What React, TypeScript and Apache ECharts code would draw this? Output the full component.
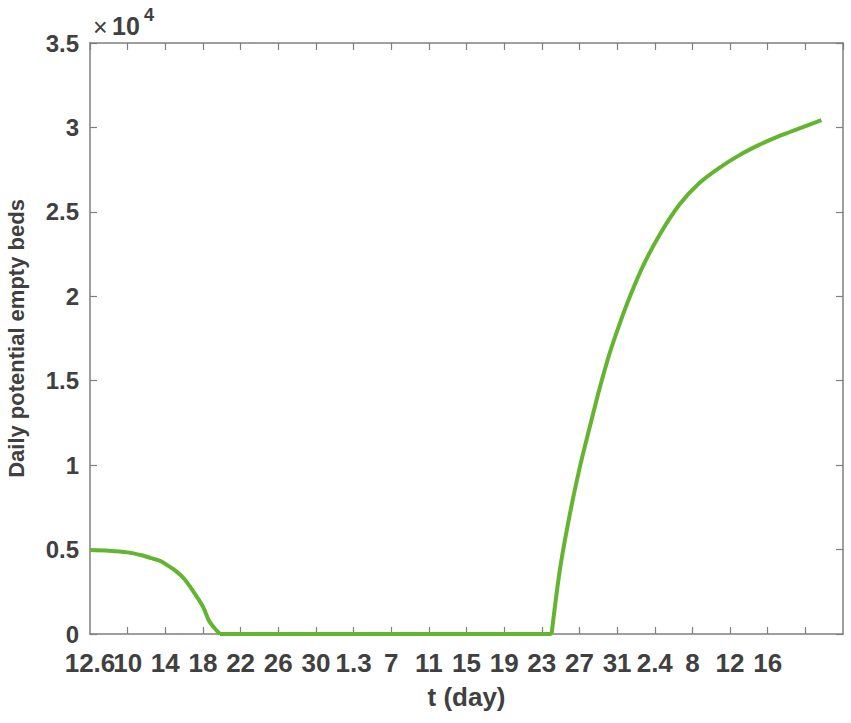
import React, { useEffect, useRef } from "react";
import * as echarts from "echarts";

// t in days since 12.6, value = daily potential empty beds
const days = [0, 2, 4, 5.5, 6.5, 7.5, 8.2, 9, 10, 11, 12, 12.6, 13.1, 13.8, 49.04, 49.92, 50.98, 52.05, 53.1, 54.16, 55.22, 56.29, 57.35, 58.76, 60.52, 62.65, 64.77, 66.9, 69, 71.14, 73.26, 75.38, 77.7];
const beds = [4970, 4935, 4835, 4660, 4490, 4320, 4080, 3780, 3270, 2500, 1620, 830, 430, 0, 0, 3800, 7100, 9900, 12270, 14580, 16650, 18400, 19970, 21800, 23650, 25450, 26720, 27620, 28360, 28980, 29500, 29950, 30430];
// indices where the curve has a corner (end of decline, start of rise)
const cornerIdx = [13, 14];
const xTickLabels = ["12.6", "10", "14", "18", "22", "26", "30", "1.3", "7", "11", "15", "19", "23", "27", "31", "2.4", "8", "12", "16"];
const yTickStep = 5000;
const yMax = 35000;
const xMax = 80;
const xTickStep = 4;

const AXIS = "#7f7f7f";
const TEXT = "#404040";
const LINE = "#63b52f";
const FONT = "'Liberation Sans', Arial, Helvetica, sans-serif";

export default function App() {
  const ref = useRef<HTMLDivElement>(null);
  useEffect(() => {
    if (!ref.current) return;
    const chart = echarts.init(ref.current, undefined, { renderer: "svg" });
    const pts = days.map((d, i) => [d, beds[i]]);
    const segs = [
      pts.slice(0, cornerIdx[0] + 1),
      pts.slice(cornerIdx[0], cornerIdx[1] + 1),
      pts.slice(cornerIdx[1]),
    ];
    const axisCommon = {
      axisLine: { show: true, onZero: false, lineStyle: { color: AXIS, width: 1.5 } },
      axisTick: { show: true, inside: true, length: 7, lineStyle: { color: AXIS, width: 1.2 } },
      splitLine: { show: false },
    };
    const xLabelStyle = {
      margin: 16,
      fontSize: 26,
      fontWeight: "bold",
      fontFamily: FONT,
      color: TEXT,
      hideOverlap: false,
    };
    chart.setOption({
      animation: false,
      backgroundColor: "#ffffff",
      grid: { left: 90, right: 8, top: 43, bottom: 89, containLabel: false, outerBoundsMode: "none" },
      xAxis: [
        {
          type: "value",
          min: 0,
          max: xMax,
          interval: xTickStep,
          position: "bottom",
          ...axisCommon,
          axisLabel: {
            ...xLabelStyle,
            showMinLabel: false,
            showMaxLabel: false,
            formatter: (v: number) => (v === 0 ? "" : xTickLabels[Math.round(v / xTickStep)] ?? ""),
          },
          name: "t (day)",
          nameLocation: "middle",
          nameGap: 50,
          nameTextStyle: { fontSize: 26, fontWeight: "bold", fontFamily: FONT, color: TEXT },
        },
        {
          type: "value",
          min: 0,
          max: xMax,
          interval: xTickStep,
          position: "top",
          ...axisCommon,
          axisLabel: { show: false },
        },
        {
          // carries only the first (overlapping) tick label "12.6"
          type: "value",
          min: 0,
          max: xMax,
          interval: xMax,
          position: "bottom",
          axisLine: { show: false },
          axisTick: { show: false },
          splitLine: { show: false },
          axisLabel: {
            ...xLabelStyle,
            showMinLabel: true,
            showMaxLabel: false,
            formatter: (v: number) => (v === 0 ? xTickLabels[0] : ""),
          },
        },
      ],
      yAxis: [
        {
          type: "value",
          min: 0,
          max: yMax,
          interval: yTickStep,
          position: "left",
          ...axisCommon,
          axisLabel: {
            margin: 11,
            fontSize: 24,
            fontWeight: "bold",
            fontFamily: FONT,
            color: TEXT,
            formatter: (v: number) => String(v / 10000),
          },
          name: "Daily potential empty beds",
          nameLocation: "middle",
          nameGap: 63,
          nameTextStyle: { fontSize: 22, fontWeight: "bold", fontFamily: FONT, color: TEXT },
        },
        {
          type: "value",
          min: 0,
          max: yMax,
          interval: yTickStep,
          position: "right",
          ...axisCommon,
          axisLabel: { show: false },
        },
      ],
      graphic: [
        {
          type: "text",
          left: 93,
          top: 14,
          style: { text: "×", fontSize: 25, fontFamily: FONT, fill: TEXT },
        },
        {
          type: "text",
          left: 112,
          top: 13,
          style: { text: "10", fontSize: 25, fontWeight: "bold", fontFamily: FONT, fill: TEXT },
        },
        {
          type: "text",
          left: 144,
          top: 6,
          style: { text: "4", fontSize: 18, fontWeight: "bold", fontFamily: FONT, fill: TEXT },
        },
      ],
      series: segs.map((s) => ({
        type: "line",
        xAxisIndex: 0,
        yAxisIndex: 0,
        data: s,
        showSymbol: false,
        symbol: "none",
        lineStyle: { color: LINE, width: 4 },
        smooth: 0.3,
      })),
    });
    return () => chart.dispose();
  }, []);
  return <div ref={ref} style={{ position: "fixed", left: 0, top: 0, width: 851, height: 723 }} />;
}
